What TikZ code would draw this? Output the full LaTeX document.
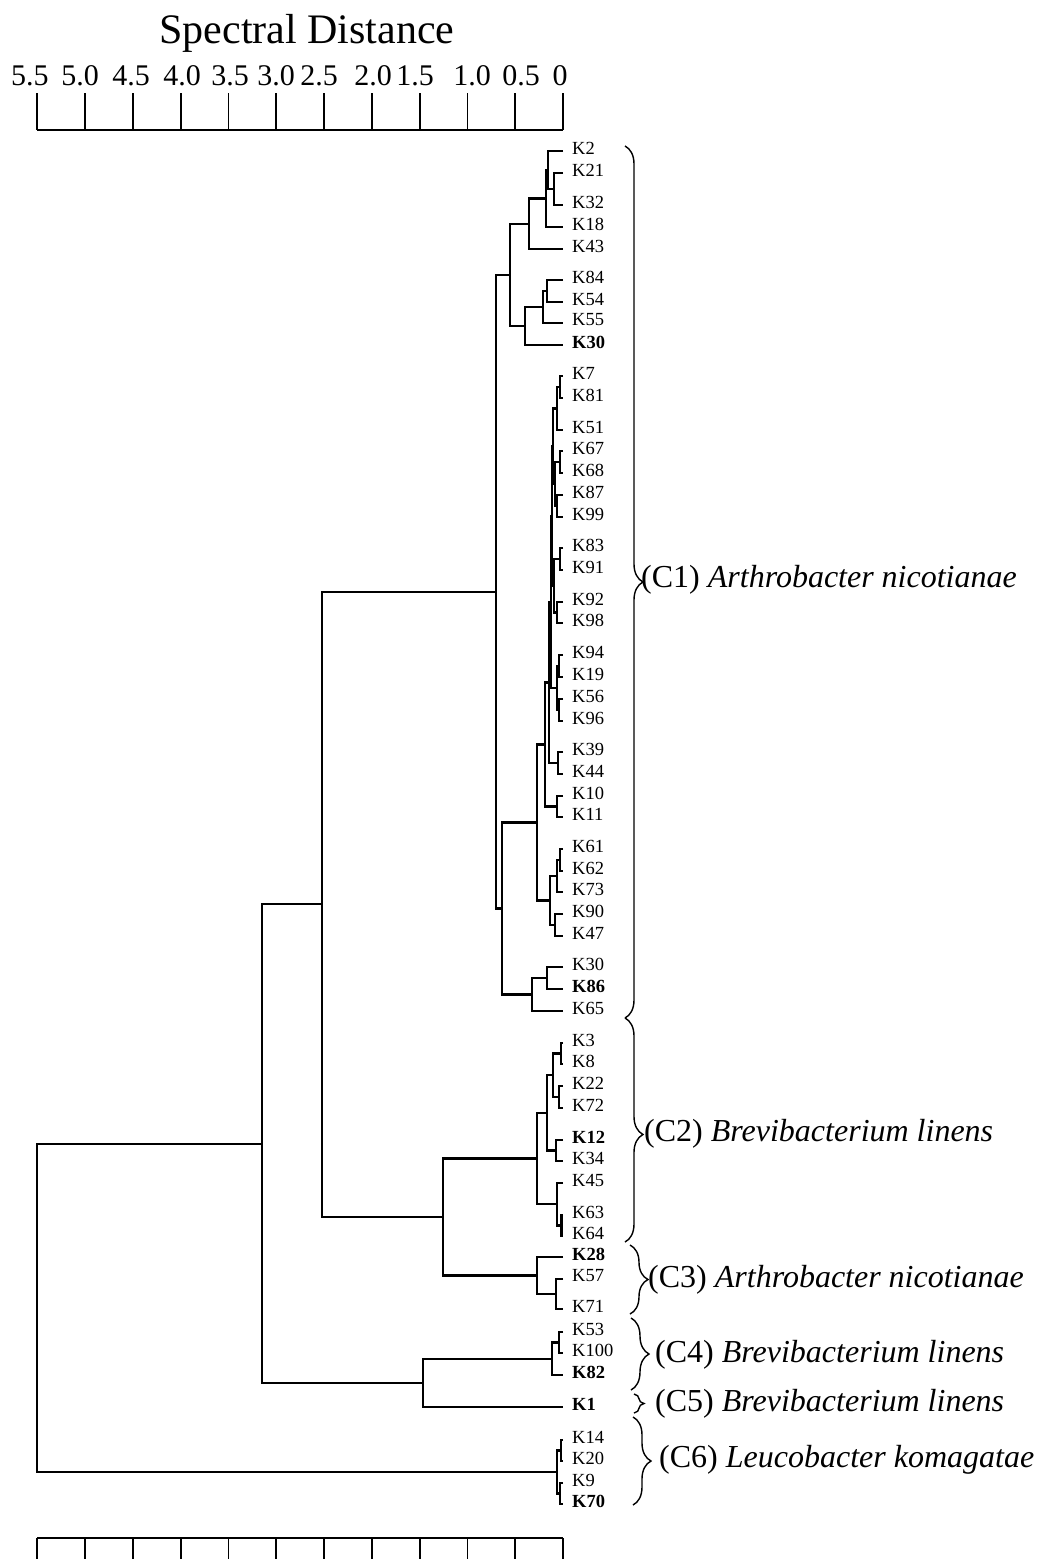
\documentclass[tikz,border=0pt]{standalone}
\usepackage{fontspec}
\setmainfont{Liberation Serif}
\usetikzlibrary{calc,decorations.pathreplacing}
\newcommand{\lf}[3]{\coordinate (#1) at (563,#2+3); \node[lbl] (t#1) at (572,#2) {#3};}
\newcommand{\jn}[4]{\coordinate (tmp) at ($(#3)!.5!(#4)$); \coordinate (#1) at (#2,0 |- tmp); \draw[br] (#3) -| (#1) |- (#4);}
\begin{document}
\begin{tikzpicture}[x=1pt,y=-1pt,
  br/.style={line width=2.2pt},
  ax/.style={line width=1.8pt},
  lbl/.style={anchor=west,inner sep=0pt,font=\fontsize{18.5}{20}\selectfont},
  num/.style={inner sep=0pt,font=\fontsize{30}{32}\selectfont},
  ttl/.style={inner sep=0pt,font=\fontsize{42}{44}\selectfont},
  cl/.style={anchor=west,inner sep=0pt,font=\fontsize{32}{34}\selectfont},
  brc/.style={decorate,decoration={brace,amplitude=18pt},line width=1.4pt}]
\useasboundingbox (0,0) rectangle (1044,1559);
% title and scale
\node[ttl] (title) at (307,33) {Spectral Distance};
\foreach \x/\t [count=\k] in {30/5.5,80/5.0,131/4.5,182/4.0,230/3.5,276/3.0,319/2.5,373/2.0,415/1.5,472/1.0,521/0.5,560/0}
  \node[num] (n\k) at (\x,76) {\t};
\foreach \i in {0,...,11} \draw[ax] ({563-47.8*\i},93) -- ({563-47.8*\i},130);
\draw[ax] (37.2,130) -- (563,130);
\foreach \i in {0,...,11} \draw[ax] ({563-47.8*\i},1538) -- ({563-47.8*\i},1559);
\draw[ax] (37.2,1538) -- (563,1538);
% leaves
\lf{K2}{148}{K2}
\lf{K21}{170}{K21}
\lf{K32}{202}{K32}
\lf{K18}{224}{K18}
\lf{K43}{246}{K43}
\lf{K84}{277}{K84}
\lf{K54}{299}{K54}
\lf{K55}{320}{K55}
\lf{K30a}{342}{\textbf{K30}}
\lf{K7}{373}{K7}
\lf{K81}{395}{K81}
\lf{K51}{427}{K51}
\lf{K67}{448}{K67}
\lf{K68}{470}{K68}
\lf{K87}{492}{K87}
\lf{K99}{514}{K99}
\lf{K83}{545}{K83}
\lf{K91}{567}{K91}
\lf{K92}{599}{K92}
\lf{K98}{620}{K98}
\lf{K94}{652}{K94}
\lf{K19}{674}{K19}
\lf{K56}{696}{K56}
\lf{K96}{718}{K96}
\lf{K39}{749}{K39}
\lf{K44}{771}{K44}
\lf{K10}{793}{K10}
\lf{K11}{814}{K11}
\lf{K61}{846}{K61}
\lf{K62}{868}{K62}
\lf{K73}{889}{K73}
\lf{K90}{911}{K90}
\lf{K47}{933}{K47}
\lf{K30b}{964}{K30}
\lf{K86}{986}{\textbf{K86}}
\lf{K65}{1008}{K65}
\lf{K3}{1040}{K3}
\lf{K8}{1061}{K8}
\lf{K22}{1083}{K22}
\lf{K72}{1105}{K72}
\lf{K12}{1137}{\textbf{K12}}
\lf{K34}{1158}{K34}
\lf{K45}{1180}{K45}
\lf{K63}{1212}{K63}
\lf{K64}{1233}{K64}
\lf{K28}{1254}{\textbf{K28}}
\lf{K57}{1276}{K57}
\lf{K71}{1306}{K71}
\lf{K53}{1329}{K53}
\lf{K100}{1350}{K100}
\lf{K82}{1372}{\textbf{K82}}
\lf{K1}{1404}{\textbf{K1}}
\lf{K14}{1437}{K14}
\lf{K20}{1458}{K20}
\lf{K9}{1480}{K9}
\lf{K70}{1501}{\textbf{K70}}
% cluster C1, part A
\jn{a1}{554}{K21}{K32}
\jn{a2}{548}{K2}{a1}
\jn{a3}{546}{a2}{K18}
\jn{a4}{529}{a3}{K43}
\jn{a5}{547}{K84}{K54}
\jn{a6}{543}{a5}{K55}
\jn{a7}{525}{a6}{K30a}
\jn{A}{510}{a4}{a7}
% cluster C1, part B
\jn{g1a}{560}{K7}{K81}
\jn{g1}{557}{g1a}{K51}
\jn{g2a}{560}{K67}{K68}
\jn{g2b}{557}{K87}{K99}
\jn{g2}{555}{g2a}{g2b}
\jn{g12}{553}{g1}{g2}
\jn{g3a}{560}{K83}{K91}
\jn{g3b}{557}{K92}{K98}
\jn{g3}{554}{g3a}{g3b}
\jn{g123}{552}{g12}{g3}
\jn{g4a}{559}{K94}{K19}
\jn{g4b}{559}{K56}{K96}
\jn{g4}{557}{g4a}{g4b}
\jn{g1234}{551}{g123}{g4}
\jn{h0}{558}{K39}{K44}
\jn{H}{549}{g1234}{h0}
\jn{i0}{557}{K10}{K11}
\jn{I}{545}{H}{i0}
\jn{j1a}{560}{K61}{K62}
\jn{j1}{557}{j1a}{K73}
\jn{j2}{555}{K90}{K47}
\jn{j}{550}{j1}{j2}
\jn{J}{537}{I}{j}
\jn{k1}{547}{K30b}{K86}
\jn{k}{532}{k1}{K65}
\jn{B}{502}{J}{k}
\jn{AB}{496}{A}{B}
% C2
\jn{c1}{561}{K3}{K8}
\jn{c2}{559}{K22}{K72}
\jn{c3}{553}{c1}{c2}
\jn{c4}{556}{K12}{K34}
\jn{c5}{547}{c3}{c4}
\jn{c6}{561.5}{K63}{K64}
\jn{c7}{557}{K45}{c6}
\jn{C2}{537}{c5}{c7}
% C3
\jn{d1}{556}{K57}{K71}
\jn{C3}{537}{K28}{d1}
\jn{C23}{443}{C2}{C3}
\jn{N322}{322}{AB}{C23}
% C4, C5
\jn{e1}{559}{K53}{K100}
\jn{C4}{552}{e1}{K82}
\jn{C45}{423}{C4}{K1}
\jn{N262}{262}{N322}{C45}
% C6
\jn{f1}{561}{K14}{K20}
\jn{f2}{560}{K9}{K70}
\jn{C6}{557}{f1}{f2}
\jn{root}{37}{N262}{C6}
% braces and cluster names
\draw[brc] (625,146) -- (625,1018);
\node[cl] (l1) at (641,580) {(C1) \textit{Arthrobacter nicotianae}};
\draw[brc,decoration={aspect=0.52}] (625,1018) -- (625,1242);
\node[cl] (l2) at (644,1134) {(C2) \textit{Brevibacterium linens}};
\draw[brc] (630,1245) -- (630,1314);
\node[cl] (l3) at (648,1280) {(C3) \textit{Arthrobacter nicotianae}};
\draw[brc] (631,1318) -- (631,1390);
\node[cl] (l4) at (655,1355) {(C4) \textit{Brevibacterium linens}};
\draw[brc,decoration={amplitude=10pt}] (634,1394) -- (634,1413);
\node[cl] (l5) at (655,1404) {(C5) \textit{Brevibacterium linens}};
\draw[brc] (633,1417) -- (633,1505);
\node[cl] (l6) at (659,1460) {(C6) \textit{Leucobacter komagatae}};
\end{tikzpicture}
\end{document}
